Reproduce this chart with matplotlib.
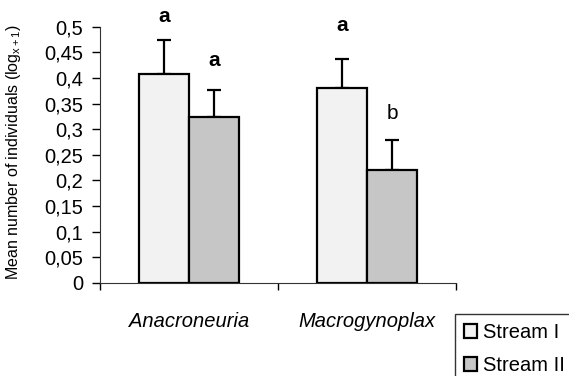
import matplotlib
matplotlib.use("Agg")
import matplotlib.pyplot as plt
from matplotlib.ticker import FixedLocator
import numpy as np

categories = ["Anacroneuria", "Macrogynoplax"]
series_names = ["Stream I", "Stream II"]
stream1 = [0.407, 0.380]
stream1_err = [0.066, 0.056]
stream2 = [0.323, 0.220]
stream2_err = [0.054, 0.058]
letters1 = ["a", "a"]
letters2 = ["a", "b"]
letters1_y = [0.519, 0.503]
letters2_y = [0.434, 0.331]
yticks = [0, 0.05, 0.1, 0.15, 0.2, 0.25, 0.3, 0.35, 0.4, 0.45, 0.5]
ytick_labels = ["0", "0,05", "0,1", "0,15", "0,2", "0,25", "0,3", "0,35", "0,4", "0,45", "0,5"]

plt.rcParams['font.family'] = ['Liberation Sans', 'DejaVu Sans']
plt.rcParams['mathtext.fontset'] = 'custom'
plt.rcParams['mathtext.rm'] = 'Liberation Sans'
plt.rcParams['mathtext.it'] = 'Liberation Sans:italic'

fig = plt.figure(figsize=(5.69, 3.76), dpi=100)
ax = fig.add_axes([100/569, 93/376, 356/569, 256.4/376])

x = np.arange(len(categories))
w = 0.281
colors = ["#f2f2f2", "#c6c6c6"]

b1 = ax.bar(x - w/2, stream1, w, color=colors[0], edgecolor="black", linewidth=1.6, label=series_names[0], zorder=2)
b2 = ax.bar(x + w/2, stream2, w, color=colors[1], edgecolor="black", linewidth=1.6, label=series_names[1], zorder=2)
ax.errorbar(x - w/2, stream1, yerr=[np.zeros(2), stream1_err], fmt="none", ecolor="black", elinewidth=1.6, capsize=5, capthick=1.6, zorder=1)
ax.errorbar(x + w/2, stream2, yerr=[np.zeros(2), stream2_err], fmt="none", ecolor="black", elinewidth=1.6, capsize=5, capthick=1.6, zorder=1)

for xi, t, yy in zip(x - w/2, letters1, letters1_y):
    ax.text(xi, yy, t, ha="center", va="center", fontsize=15, fontweight="bold", clip_on=False)
for xi, t, yy in zip(x + w/2, letters2, letters2_y):
    ax.text(xi, yy, t, ha="center", va="center", fontsize=15,
            fontweight="bold" if t == "a" else "normal", clip_on=False)

ax.set_xlim(-0.5, 1.5)
ax.set_ylim(0, 0.5)
ax.set_yticks(yticks)
ax.set_yticklabels(ytick_labels, fontsize=14.5)
ax.set_xticks(x)
ax.set_xticklabels(categories, fontsize=14.5, style="italic")
ax.xaxis.set_minor_locator(FixedLocator([-0.5, 0.5, 1.5]))
ax.tick_params(axis="x", which="major", length=0, pad=21)
ax.tick_params(axis="x", which="minor", length=5, width=1, direction="out")
ax.tick_params(axis="y", length=6, width=1, direction="out", pad=6)
ax.spines["top"].set_visible(False)
ax.spines["right"].set_visible(False)
ax.spines["left"].set_color("#333333")
ax.spines["bottom"].set_color("#333333")

fig.text(14/569, 1 - 152/376, r"Mean number of individuals (log$_{\mathrm{x+1}}$)",
         rotation=90, ha="center", va="center", fontsize=11.5)

leg = fig.legend(handles=[b1, b2], labels=series_names, loc="upper left",
                 bbox_to_anchor=(455/569, 1 - 314/376), frameon=True, fancybox=False,
                 edgecolor="black", fontsize=14.5, handlelength=0.65, handleheight=0.65,
                 handletextpad=0.3, borderpad=0.45, labelspacing=0.7, borderaxespad=0)
leg.get_frame().set_linewidth(1.0)

fig.savefig("out.png", dpi=100)
